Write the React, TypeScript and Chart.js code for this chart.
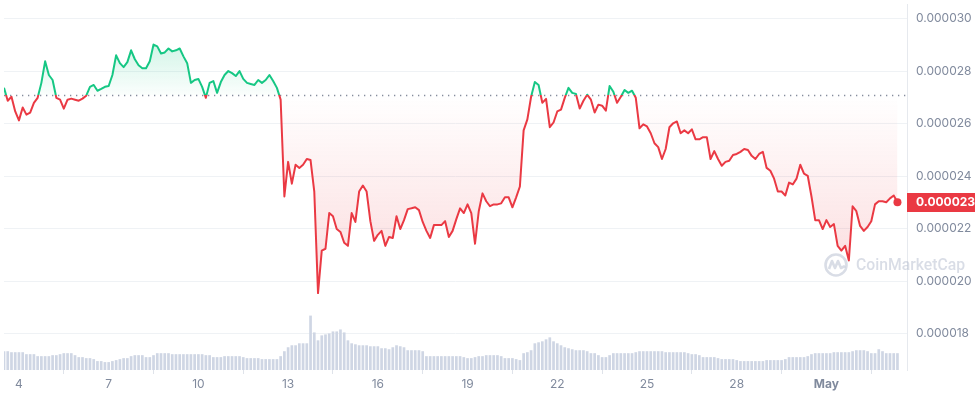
import { useEffect, useRef } from 'react';
import { Chart, registerables } from 'chart.js';

Chart.register(...registerables);

// Time axis: day-of-April numbering (May 1 = 31); one sample every 3 hours
const START_DAY = 3.5;
const STEP_DAYS = 0.125;

// Price in micro-USD (1e-6 USD)
const prices = [
  27.37, 26.88, 27.03, 26.47, 26.13, 26.62, 26.35, 26.43, 26.8, 26.99,
  27.56, 28.38, 27.86, 27.67, 26.99, 26.92, 26.58, 26.92, 26.96, 26.92,
  26.88, 26.96, 27.07, 27.41, 27.48, 27.26, 27.33, 27.41, 27.44, 27.86,
  28.61, 28.31, 28.16, 28.35, 28.8, 28.46, 28.23, 28.12, 28.12, 28.38,
  29.02, 28.95, 28.68, 28.72, 28.87, 28.76, 28.8, 28.87, 28.57, 28.31,
  27.56, 27.67, 27.71, 27.41, 26.99, 27.56, 27.63, 27.18, 27.59, 27.86,
  28.01, 27.93, 27.82, 28.01, 27.71, 27.56, 27.52, 27.48, 27.67, 27.56,
  27.67, 27.86, 27.63, 27.37, 26.92, 23.23, 24.55, 23.72, 24.44, 24.32,
  24.44, 24.66, 24.62, 23.42, 19.55, 21.17, 21.24, 22.6, 22.48, 21.99,
  21.88, 21.47, 21.35, 22.6, 22.26, 23.42, 23.65, 23.42, 22.29, 21.54,
  21.77, 21.92, 21.35, 21.69, 21.65, 22.48, 21.99, 22.33, 22.75, 22.78,
  22.82, 22.71, 22.26, 21.92, 21.65, 22.14, 22.14, 22.14, 22.29, 21.69,
  21.92, 22.37, 22.78, 22.6, 22.93, 22.6, 21.43, 22.67, 23.35, 23.05,
  22.86, 22.93, 22.93, 22.97, 23.2, 23.2, 22.82, 23.2, 23.61, 25.75,
  26.17, 27.03, 27.59, 27.48, 26.8, 26.95, 25.87, 26.05, 26.47, 26.54,
  26.99, 27.37, 27.18, 27.14, 26.58, 26.88, 27.11, 26.92, 26.43, 26.73,
  26.69, 26.5, 27.44, 27.22, 26.8, 27.03, 27.29, 27.18, 27.26, 26.99,
  25.83, 25.98, 25.9, 25.64, 25.26, 25.11, 24.66, 25.04, 25.87, 26.02,
  26.09, 25.64, 25.75, 25.64, 25.79, 25.41, 25.41, 25.49, 25.49, 24.66,
  24.96, 24.66, 24.4, 24.55, 24.59, 24.81, 24.85, 24.93, 25.04, 25.0,
  24.78, 24.66, 24.85, 24.93, 24.32, 24.21, 23.91, 23.42, 23.42, 23.27,
  23.76, 23.69, 23.91, 24.44, 24.1, 24.02, 23.23, 22.33, 22.33, 21.99,
  22.33, 22.07, 22.18, 21.35, 21.17, 21.35, 20.79, 22.86, 22.67, 22.11,
  21.92, 22.07, 22.29, 22.93, 23.05, 23.05, 23.01, 23.16, 23.27, 23.01,
];

// Trading volume (relative units)
const volumes = [
  19, 19, 18, 18, 18, 18, 16, 16, 16, 14,
  14, 14, 14, 15, 15, 16, 17, 17, 17, 15,
  13, 13, 12, 12, 11, 9, 9, 8, 8, 9,
  10, 11, 12, 12, 14, 15, 15, 15, 13, 13,
  15, 17, 17, 17, 17, 16, 16, 16, 16, 16,
  16, 16, 16, 16, 15, 15, 13, 13, 13, 14,
  14, 14, 14, 14, 13, 12, 12, 12, 12, 11,
  11, 11, 11, 11, 14, 19, 23, 25, 25, 27,
  27, 27, 55, 38, 30, 35, 36, 37, 39, 39,
  41, 38, 30, 27, 26, 25, 25, 25, 24, 24,
  24, 22, 22, 21, 23, 25, 24, 23, 20, 20,
  20, 20, 19, 14, 14, 14, 14, 14, 14, 14,
  14, 14, 14, 13, 12, 12, 13, 14, 14, 15,
  15, 15, 15, 14, 12, 12, 12, 11, 10, 17,
  18, 20, 27, 28, 29, 31, 33, 29, 27, 25,
  23, 22, 21, 20, 20, 20, 19, 17, 17, 15,
  13, 13, 15, 17, 17, 17, 17, 17, 17, 18,
  19, 19, 19, 19, 19, 19, 19, 18, 18, 18,
  18, 18, 18, 17, 16, 16, 15, 13, 13, 13,
  13, 12, 11, 11, 11, 11, 10, 9, 9, 9,
  9, 9, 9, 9, 10, 10, 10, 10, 10, 11,
  13, 13, 13, 13, 13, 14, 16, 17, 17, 17,
  17, 17, 18, 18, 18, 18, 18, 19, 20, 20,
  20, 19, 17, 17, 21, 19, 17, 17, 17, 17,
];

const BASELINE = 27.1;
const yTicks = [18, 20, 22, 24, 26, 28, 30];
const xTickDays = [4, 7, 10, 13, 16, 19, 22, 25, 28, 31];
const xTickLabels = ['4', '7', '10', '13', '16', '19', '22', '25', '28', 'May'];
const WATERMARK = 'CoinMarketCap';

const Y_MIN = 16.62;
const Y_MAX = 30.565;
const X_MIN = 3.5;
const X_MAX = 33.694;
const VOL_MAX = 370;

const GREEN = '#16c784';
const RED = '#ea3943';
const GRAY = '#808a9d';

function splitGradient(chart: any, above: string, below: string, above2?: string, below2?: string) {
  const { ctx, chartArea, scales } = chart;
  if (!chartArea || !scales.y) return above;
  const yb = scales.y.getPixelForValue(BASELINE);
  const h = chartArea.bottom - chartArea.top;
  const f = Math.min(Math.max((yb - chartArea.top) / h, 0), 1);
  const g = ctx.createLinearGradient(0, chartArea.top, 0, chartArea.bottom);
  g.addColorStop(0, above);
  g.addColorStop(f, above2 ?? above);
  g.addColorStop(f, below2 ?? below);
  g.addColorStop(1, below);
  return g;
}

const decorPlugin = {
  id: 'decor',
  beforeDatasetsDraw(chart: any) {
    const { ctx, chartArea, scales } = chart;
    // watermark
    ctx.save();
    const cx = 836;
    const cy = 265;
    const wmColor = 'rgba(150,162,185,0.36)';
    ctx.strokeStyle = wmColor;
    ctx.lineWidth = 2.6;
    ctx.beginPath();
    ctx.arc(cx, cy, 10.5, 0, Math.PI * 2);
    ctx.stroke();
    ctx.lineJoin = 'round';
    ctx.beginPath();
    ctx.moveTo(cx - 7, cy + 4);
    ctx.lineTo(cx - 4, cy - 4);
    ctx.lineTo(cx - 1, cy + 3);
    ctx.lineTo(cx + 2, cy - 4);
    ctx.lineTo(cx + 5, cy + 3);
    ctx.lineTo(cx + 9, cy + 1);
    ctx.stroke();
    ctx.fillStyle = wmColor;
    ctx.font = '500 16px Roboto';
    const w = ctx.measureText(WATERMARK).width;
    const size = (16 * 109) / w;
    ctx.font = `500 ${size.toFixed(2)}px Roboto`;
    ctx.textBaseline = 'middle';
    ctx.textAlign = 'left';
    ctx.fillText(WATERMARK, 856, cy + 1);
    ctx.restore();

    // dotted baseline
    const yb = Math.round(scales.y.getPixelForValue(BASELINE)) + 0.5;
    ctx.save();
    ctx.strokeStyle = 'rgba(120,128,145,0.9)';
    ctx.lineWidth = 1.3;
    ctx.setLineDash([1.3, 4.7]);
    ctx.beginPath();
    ctx.moveTo(chartArea.left, yb);
    ctx.lineTo(chartArea.right, yb);
    ctx.stroke();
    ctx.restore();
  },
  afterDraw(chart: any) {
    const { ctx, chartArea, scales } = chart;
    const last = prices[prices.length - 1];
    const y = scales.y.getPixelForValue(last);
    ctx.save();
    ctx.fillStyle = RED;
    ctx.fillRect(chartArea.right, Math.round(y - 9.5), chart.width - chartArea.right, 19);
    ctx.fillStyle = '#ffffff';
    ctx.font = 'bold 12px Inter';
    ctx.textBaseline = 'middle';
    ctx.textAlign = 'left';
    ctx.fillText((last / 1e6).toFixed(6), chartArea.right + 9, y + 0.5);
    ctx.restore();
  },
};

export default function App() {
  const ref = useRef<HTMLCanvasElement>(null);

  useEffect(() => {
    document.body.style.margin = '0';
    const canvas = ref.current;
    if (!canvas) return;
    const times = prices.map((_, i) => START_DAY + i * STEP_DAYS);
    const priceData = prices.map((p, i) => ({ x: times[i], y: p }));
    const volData = volumes.map((v, i) => ({ x: times[i], y: v }));
    const lastIdx = prices.length - 1;

    const chart = new Chart(canvas, {
      type: 'line',
      data: {
        datasets: [
          {
            type: 'line',
            data: priceData as any,
            yAxisID: 'y',
            order: 0,
            borderWidth: 2,
            tension: 0,
            borderJoinStyle: 'round',
            borderColor: (c: any) => splitGradient(c.chart, GREEN, RED),
            backgroundColor: (c: any) =>
              splitGradient(
                c.chart,
                'rgba(22,199,132,0.32)',
                'rgba(234,57,67,0.26)',
                'rgba(22,199,132,0.02)',
                'rgba(234,57,67,0.0)'
              ),
            fill: { value: BASELINE } as any,
            pointRadius: (c: any) => (c.dataIndex === lastIdx ? 4 : 0),
            pointHoverRadius: 0,
            pointBackgroundColor: RED,
            pointBorderWidth: 0,
          } as any,
          {
            type: 'bar',
            data: volData as any,
            yAxisID: 'yv',
            order: 1,
            backgroundColor: 'rgb(207,214,228)',
            categoryPercentage: 1,
            barPercentage: 0.72,
            borderWidth: 0,
          } as any,
        ],
      },
      options: {
        responsive: false,
        animation: false,
        devicePixelRatio: 1,
        layout: { padding: 0 },
        plugins: { legend: { display: false }, tooltip: { enabled: false } },
        scales: {
          x: {
            type: 'linear',
            min: X_MIN,
            max: X_MAX,
            offset: false,
            afterBuildTicks: (s: any) => {
              s.ticks = xTickDays.map((v) => ({ value: v }));
            },
            afterFit: (s: any) => {
              s.height = 26;
              s.paddingLeft = 0;
              s.paddingRight = 0;
            },
            ticks: {
              autoSkip: false,
              maxRotation: 0,
              padding: 3,
              color: GRAY,
              font: (c: any) => ({
                family: 'Inter',
                size: 12,
                weight: c.tick && c.tick.value === 31 ? 'bold' : 'normal',
              }),
              callback: (v: any) => {
                const i = xTickDays.indexOf(Number(v));
                return i >= 0 ? xTickLabels[i] : '';
              },
            },
            grid: {
              display: true,
              drawOnChartArea: false,
              drawTicks: true,
              tickLength: 4,
              color: '#dfe3ea',
            },
            border: { display: false },
          },
          y: {
            type: 'linear',
            position: 'right',
            min: Y_MIN,
            max: Y_MAX,
            afterBuildTicks: (s: any) => {
              s.ticks = yTicks.map((v) => ({ value: v }));
            },
            afterFit: (s: any) => {
              s.width = 68;
              s.paddingTop = 0;
              s.paddingBottom = 0;
            },
            ticks: {
              padding: 9,
              color: GRAY,
              font: { family: 'Inter', size: 12 },
              callback: (v: any) => (Number(v) / 1e6).toFixed(6),
            },
            grid: { color: '#eff2f5', drawTicks: false },
            border: { display: true, color: '#e6e9ee' },
          },
          yv: {
            type: 'linear',
            display: false,
            min: 0,
            max: VOL_MAX,
          },
        },
      } as any,
      plugins: [decorPlugin],
    });
    return () => chart.destroy();
  }, []);

  return (
    <div style={{ width: 975, height: 396 }}>
      <canvas ref={ref} width={975} height={396} style={{ display: 'block' }} />
    </div>
  );
}
